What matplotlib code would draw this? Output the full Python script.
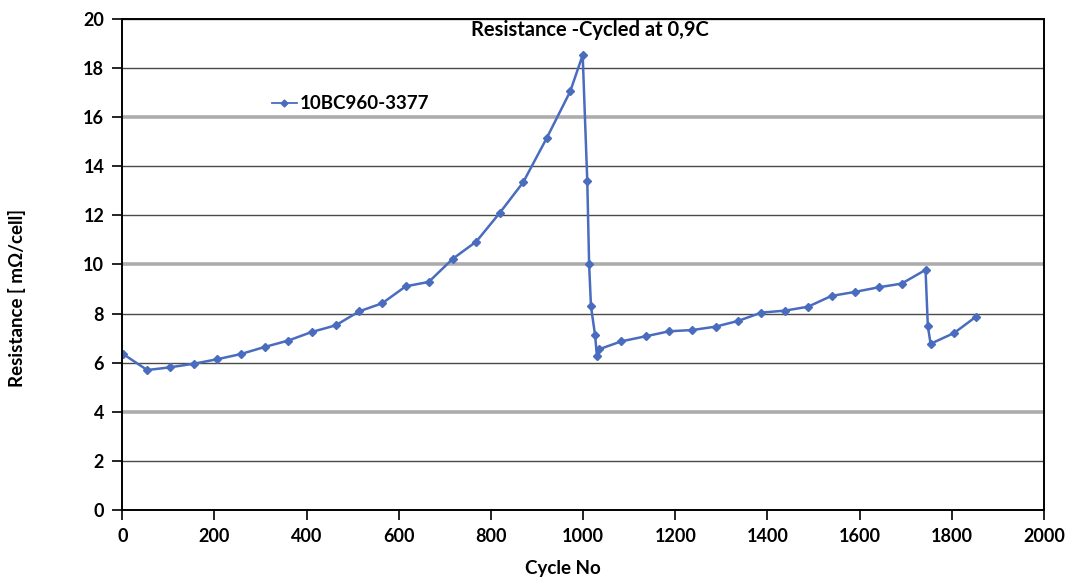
import matplotlib
matplotlib.use('Agg')
import matplotlib.pyplot as plt

# cycle number vs resistance
cycles = [2, 54, 103, 156, 206, 257, 309, 360, 411, 463, 514, 564, 615, 665,
          717, 768, 819, 870, 921, 972, 999, 1009, 1013, 1017, 1026, 1030, 1035,
          1083, 1137, 1187, 1237, 1288, 1336, 1387, 1438, 1488, 1539, 1589,
          1641, 1691, 1743, 1748, 1754, 1805, 1853]
resistance = [6.35, 5.70, 5.81, 5.96, 6.14, 6.35, 6.64, 6.90, 7.25, 7.52,
              8.09, 8.42, 9.11, 9.29, 10.23, 10.93, 12.10, 13.35, 15.15, 17.05,
              18.53, 13.40, 10.01, 8.30, 7.11, 6.26, 6.55, 6.87, 7.08, 7.28,
              7.33, 7.47, 7.70, 8.04, 8.12, 8.28, 8.72, 8.88, 9.07, 9.22, 9.78,
              7.49, 6.77, 7.21, 7.88]
series_name = '10BC960-3377'
title = 'Resistance -Cycled at 0,9C'
x_ticks = list(range(0, 2001, 200))
y_ticks = list(range(0, 21, 2))

plt.rcParams['font.family'] = ['Lato', 'DejaVu Sans']
blue = '#4a6cbf'

fig = plt.figure(figsize=(10.68, 5.79), dpi=100)
ax = fig.add_axes([0.1145, 0.1192, 0.863, 0.848])

ax.plot(cycles, resistance, color=blue, lw=1.8, marker='D', markersize=4.5,
        markeredgecolor=blue, markerfacecolor=blue, label=series_name)

ax.set_xlim(0, 2000)
ax.set_ylim(0, 20)
ax.set_xticks(x_ticks)
ax.set_yticks(y_ticks)
ax.tick_params(axis='both', direction='out', length=7, width=1.2,
               labelsize=13, pad=6)
for lbl in ax.get_xticklabels() + ax.get_yticklabels():
    lbl.set_fontweight('bold')

# Excel-ish horizontal grid: a few lines come out thicker and grey
ax.yaxis.grid(True)
for val, gl in zip(y_ticks, ax.get_ygridlines()):
    if val in (4, 10, 16):
        gl.set_color('#acacac')
        gl.set_linewidth(2.6)
    else:
        gl.set_color('#4a4a4a')
        gl.set_linewidth(1.0)
ax.set_axisbelow(True)

for sp in ax.spines.values():
    sp.set_color('black')
    sp.set_linewidth(1.4)

ax.set_xlabel('Cycle No', fontsize=13.5, fontweight='bold')
ax.xaxis.set_label_coords(0.478, -0.102)
ax.set_ylabel('Resistance [ m\u03a9/cell]', fontsize=13.5, fontweight='bold')
ax.yaxis.set_label_coords(-0.104, 0.432)
ax.text(0.5076, 0.978, title, transform=ax.transAxes, ha='center', va='center',
        fontsize=14.5, fontweight='bold')

leg = ax.legend(loc='center left', bbox_to_anchor=(0.152, 0.827), frameon=False,
                borderpad=0, handlelength=1.35, handletextpad=0.15,
                prop={'weight': 'bold', 'size': 13.5})
for h in leg.legend_handles:
    h.set_markersize(3.5)
    h.set_linewidth(1.3)

plt.savefig('out.png', dpi=100)
